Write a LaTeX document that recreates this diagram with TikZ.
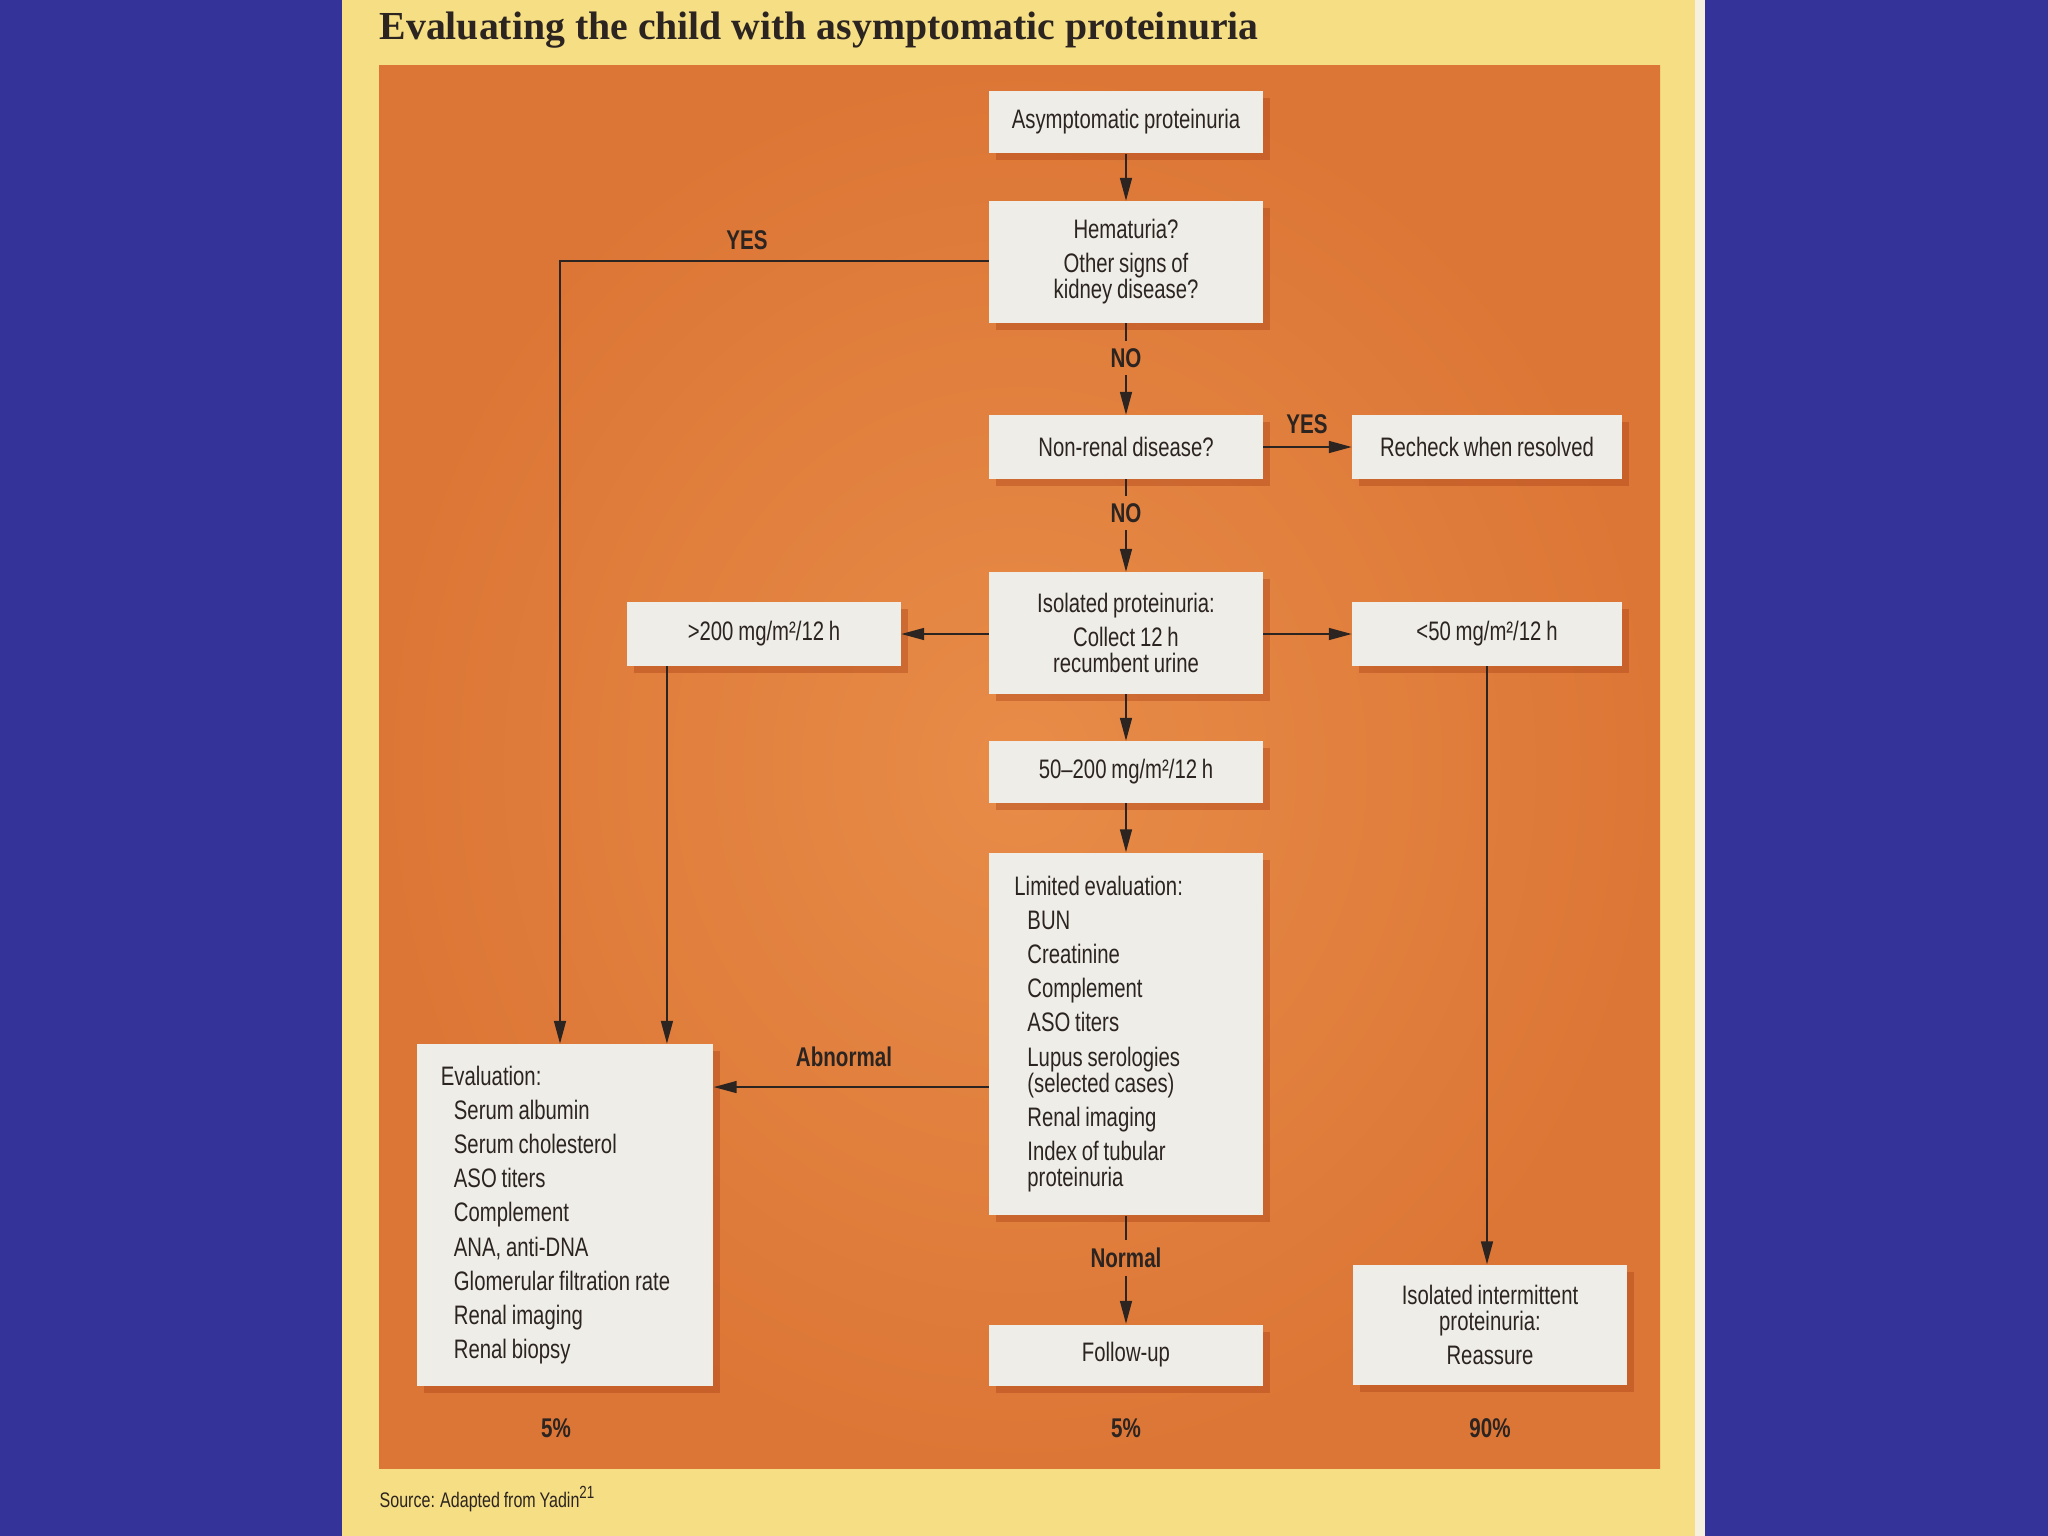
\documentclass[tikz,border=0pt]{standalone}
\usepackage{fontspec}
\setmainfont{Liberation Serif}
\newfontfamily\boxfont[FakeStretch=0.76, WordSpace=0.85]{Liberation Sans}
\usetikzlibrary{arrows.meta, positioning, shadows}

\definecolor{bgblue}{RGB}{51,51,153}
\definecolor{panel}{RGB}{245,222,132}
\definecolor{strip}{RGB}{246,240,222}
\definecolor{orangein}{RGB}{232,140,72}
\definecolor{orangeout}{RGB}{220,118,54}
\definecolor{boxfill}{RGB}{239,237,231}
\definecolor{boxshade}{RGB}{170,64,24}
\definecolor{ink}{RGB}{44,36,32}

\newcommand{\ind}{\hspace*{0.13cm}}

\begin{document}
\begin{tikzpicture}[x=0.01cm, y=-0.01cm,
  every node/.style={text=ink, font=\boxfont\fontsize{7.6pt}{7.4pt}\selectfont},
  box/.style={fill=boxfill, inner sep=0pt, align=center, minimum width=2.73cm,
              drop shadow={shadow xshift=0.07cm, shadow yshift=-0.07cm,
                           fill=boxshade, opacity=0.4}},
  list/.style={box, align=flush left, text width=2.23cm},
  lbl/.style={font=\boxfont\bfseries\fontsize{7.7pt}{7.4pt}\selectfont, inner sep=2pt},
  arr/.style={-{Triangle[length=6.5pt, width=3.4pt]}, draw=ink, line width=0.45pt},
  link/.style={draw=ink, line width=0.45pt}
]
\useasboundingbox (0,0) rectangle (2048,1536);

%% ---- BACKGROUND -------------------------------------------------
\fill[bgblue] (0,0) rectangle (2048,1536);
\fill[strip] (342,0) rectangle (1705,1536);
\fill[panel] (342,0) rectangle (1695,1536);
\shade[inner color=orangein, outer color=orangeout] (379,65) rectangle (1660,1468);

\node[anchor=base west, inner sep=0pt,
      font=\bfseries\fontsize{11.3pt}{13pt}\selectfont] (title) at (379,39)
  {Evaluating the child with asymptomatic proteinuria};
\node[anchor=base west, inner sep=0pt,
      font=\boxfont\fontsize{6pt}{7pt}\selectfont] (source) at (379,1507)
  {Source: Adapted from Yadin\textsuperscript{21}};

%% ---- MAIN COLUMN ------------------------------------------------
\node[box, minimum height=0.62cm] (start)    at (1126,122) {Asymptomatic proteinuria};
\node[box, minimum height=1.21cm] (hema)     at (1126,262)
  {Hematuria?\\[2.3pt] Other signs of\\kidney disease?};
\node[box, minimum height=0.63cm] (nonrenal) at (1126,447) {Non-renal disease?};
\node[box, minimum height=1.21cm] (isolated) at (1126,633)
  {Isolated proteinuria:\\[2.3pt] Collect 12 h\\recumbent urine};
\node[box, minimum height=0.61cm] (midrange) at (1126,772) {50–200 mg/m²/12 h};
\node[list, minimum height=3.62cm] (limited) at (1126,1034)
  {Limited evaluation:\\[2.3pt]
   \ind BUN\\[2.3pt]
   \ind Creatinine\\[2.3pt]
   \ind Complement\\[2.3pt]
   \ind ASO titers\\[2.3pt]
   \ind Lupus serologies\\
   \ind (selected cases)\\[2.3pt]
   \ind Renal imaging\\[2.3pt]
   \ind Index of tubular\\
   \ind proteinuria};
\node[box, minimum height=0.61cm] (followup) at (1126,1355) {Follow-up};

%% ---- SIDE BOXES -------------------------------------------------
\node[box, minimum width=2.69cm, minimum height=0.63cm] (recheck) at (1487,447)
  {Recheck when resolved};
\node[box, minimum height=0.63cm] (high) at (764,634) {>200 mg/m²/12 h};
\node[box, minimum width=2.69cm, minimum height=0.63cm] (low) at (1487,634)
  {<50 mg/m²/12 h};
\node[list, minimum width=2.96cm, text width=2.48cm, minimum height=3.41cm]
  (fulleval) at (565,1215)
  {Evaluation:\\[2.3pt]
   \ind Serum albumin\\[2.3pt]
   \ind Serum cholesterol\\[2.3pt]
   \ind ASO titers\\[2.3pt]
   \ind Complement\\[2.3pt]
   \ind ANA, anti-DNA\\[2.3pt]
   \ind Glomerular filtration rate\\[2.3pt]
   \ind Renal imaging\\[2.3pt]
   \ind Renal biopsy};
\node[box, minimum width=2.74cm, minimum height=1.20cm] (reassure) at (1490,1325)
  {Isolated intermittent\\proteinuria:\\[2.3pt] Reassure};

%% ---- LABELS -----------------------------------------------------
\node[lbl] (yesleft)  at (747,240)  {YES};
\node[lbl] (noone)    at (1126,358) {NO};
\node[lbl] (yesright) at (1307,424) {YES};
\node[lbl] (notwo)    at (1126,513) {NO};
\node[lbl] (abnormal) at (844,1057) {Abnormal};
\node[lbl] (normal)   at (1126,1258) {Normal};

\node[lbl] (pctleft)  at (556,1428)  {5\%};
\node[lbl] (pctmid)   at (1126,1428) {5\%};
\node[lbl] (pctright) at (1490,1428) {90\%};

%% ---- CONNECTORS -------------------------------------------------
\draw[arr] (start) -- (hema);
\draw[link] (hema) -- (noone);
\draw[arr] (noone) -- (nonrenal);
\draw[arr] (nonrenal) -- (recheck);
\draw[link] (nonrenal) -- (notwo);
\draw[arr] (notwo) -- (isolated);
\draw[arr] (isolated.west |- high) -- (high);
\draw[arr] (isolated.east |- low) -- (low);
\draw[arr] (isolated) -- (midrange);
\draw[arr] (midrange) -- (limited);

\coordinate (yesstart) at ([yshift=0.01cm]hema.west);
\coordinate (yesend)   at ([xshift=-0.05cm]fulleval.north);
\draw[arr] (yesstart) -| (yesend);

\coordinate (highdrop) at ([xshift=-0.97cm]high.south);
\draw[arr] (highdrop) -- (highdrop |- fulleval.north);

\coordinate (abnstart) at ([yshift=-0.53cm]limited.west);
\draw[arr] (abnstart) -- (abnstart -| fulleval.east);

\draw[link] (limited) -- (normal);
\draw[arr] (normal) -- (followup);
\draw[arr] (low.south) -- (low.south |- reassure.north);

\end{tikzpicture}
\end{document}
